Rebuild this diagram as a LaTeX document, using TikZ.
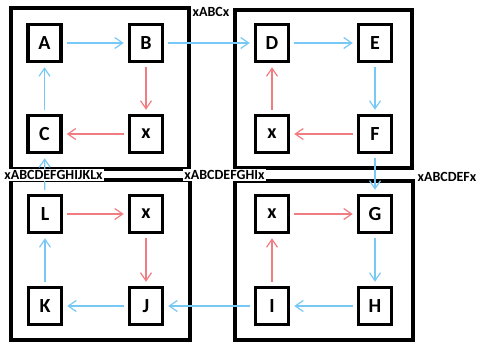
\documentclass[tikz,border=0pt]{standalone}
\usepackage{fontspec}
\setmainfont{Carlito}
\usetikzlibrary{arrows.meta}
\definecolor{eblue}{RGB}{120,200,245}
\definecolor{ered}{RGB}{240,125,130}
\begin{document}
\begin{tikzpicture}[x=1pt,y=-1pt,
  vbox/.style={draw,line width=3.5pt,minimum width=33pt,minimum height=37pt,inner sep=0pt,font=\fontsize{20}{22}\selectfont\bfseries},
  cluster/.style={draw,line width=3.5pt},
  clabel/.style={fill=white,inner sep=1pt,font=\fontsize{14}{15}\selectfont\bfseries},
  be/.style={draw=eblue,line width=1.2pt,-{Straight Barb[length=8pt,width=11pt]},shorten >=4pt,shorten <=4pt},
  re/.style={draw=ered,line width=1.2pt,-{Straight Barb[length=8pt,width=11pt]},shorten >=4pt,shorten <=4pt}]
\useasboundingbox (0,0) rectangle (477,343);
% clusters
\draw[cluster] (11,8) rectangle (189,169);
\draw[cluster] (235,10) rectangle (412,168);
\draw[cluster] (11,180) rectangle (190,340);
\draw[cluster] (235,181) rectangle (413,340);
% nodes
\node[vbox] (A) at (44.5,43) {A};
\node[vbox] (B) at (146,43) {B};
\node[vbox] (C) at (44.5,134) {C};
\node[vbox] (X1) at (146,134) {x};
\node[vbox] (D) at (272,43) {D};
\node[vbox] (E) at (375,43) {E};
\node[vbox] (X2) at (272,134) {x};
\node[vbox] (F) at (375,134) {F};
\node[vbox] (L) at (45,214) {L};
\node[vbox] (X3) at (146,214) {x};
\node[vbox] (K) at (45,306) {K};
\node[vbox] (J) at (146,306) {J};
\node[vbox] (X4) at (272,214) {x};
\node[vbox] (G) at (375,214) {G};
\node[vbox] (I) at (272,306) {I};
\node[vbox] (H) at (375,306) {H};
% edges
\draw[be] (A) -- (B);
\draw[re] (B) -- (X1);
\draw[re] (X1) -- (C);
\draw[be] (C) -- (A);
\draw[be] (B) -- (D);
\draw[be] (D) -- (E);
\draw[be] (E) -- (F);
\draw[re] (F) -- (X2);
\draw[re] (X2) -- (D);
\draw[be] (F) -- (G);
\draw[be] (G) -- (H);
\draw[be] (H) -- (I);
\draw[re] (I) -- (X4);
\draw[re] (X4) -- (G);
\draw[be] (I) -- (J);
\draw[be] (J) -- (K);
\draw[be] (K) -- (L);
\draw[re] (L) -- (X3);
\draw[re] (X3) -- (J);
\draw[be] (L) -- (C);
% labels
\node[clabel] (l1) at (211,12) {xABCx};
\node[clabel] (l2) at (53.5,175) {xABCDEFGHIJKLx};
\node[clabel] (l3) at (224.5,175) {xABCDEFGHIx};
\node[clabel] (l4) at (447,177) {xABCDEFx};
\end{tikzpicture}
\end{document}
